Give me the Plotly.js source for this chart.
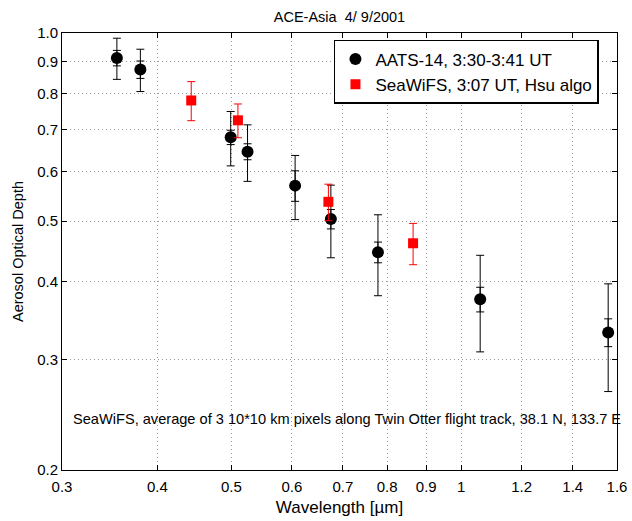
<!DOCTYPE html>
<html>
<head>
<meta charset="utf-8">
<script src="https://cdn.plot.ly/plotly-3.0.1.min.js"></script>
<style>
  html, body { margin: 0; padding: 0; background: #fff; }
  #chart { width: 632px; height: 521px; }
</style>
</head>
<body>
<div id="chart"></div>
<script>
// AATS-14 sunphotometer spectrum (wavelength in µm, AOD)
const aatsWavelength = [0.354, 0.380, 0.499, 0.525, 0.606, 0.675, 0.778, 1.059, 1.558];
const aatsAod        = [0.912, 0.874, 0.681, 0.646, 0.570, 0.504, 0.446, 0.375, 0.332];
const aatsErrTotal   = [0.069, 0.068, 0.068, 0.067, 0.067, 0.067, 0.066, 0.066, 0.065];
const aatsErrInner   = [0.026, 0.028, 0.018, 0.019, 0.032, 0.018, 0.017, 0.017, 0.017];

// SeaWiFS retrieval (Hsu algorithm)
const seawifsWavelength = [0.443, 0.510, 0.670, 0.865];
const seawifsAod        = [0.780, 0.725, 0.537, 0.461];
const seawifsErr        = [0.056, 0.045, 0.036, 0.035];

// Axis ticks
const xTickVals = [0.3, 0.4, 0.5, 0.6, 0.7, 0.8, 0.9, 1, 1.2, 1.4, 1.6];
const xTickText = ['0.3', '0.4', '0.5', '0.6', '0.7', '0.8', '0.9', '1', '1.2', '1.4', '1.6'];
const yTickVals = [0.2, 0.3, 0.4, 0.5, 0.6, 0.7, 0.8, 0.9, 1.0];
const yTickText = ['0.2', '0.3', '0.4', '0.5', '0.6', '0.7', '0.8', '0.9', '1.0'];

const FONT = 'Liberation Sans, Arial, Helvetica, sans-serif';

const traces = [
  {
    // AATS-14 total uncertainty and markers
    x: aatsWavelength, y: aatsAod,
    type: 'scatter', mode: 'markers',
    name: 'AATS-14, 3:30-3:41 UT',
    marker: { symbol: 'circle', size: 12, color: '#000' },
    error_y: { type: 'data', array: aatsErrTotal, visible: true,
               color: '#000', thickness: 1, width: 4 }
  },
  {
    // AATS-14 inner uncertainty
    x: aatsWavelength, y: aatsAod,
    type: 'scatter', mode: 'markers',
    showlegend: false,
    marker: { size: 1, color: 'rgba(0,0,0,0)' },
    error_y: { type: 'data', array: aatsErrInner, visible: true,
               color: '#000', thickness: 1, width: 4 }
  },
  {
    x: seawifsWavelength, y: seawifsAod,
    type: 'scatter', mode: 'markers',
    name: 'SeaWiFS, 3:07 UT, Hsu algo',
    marker: { symbol: 'square', size: 10, color: '#ff0000' },
    error_y: { type: 'data', array: seawifsErr, visible: true,
               color: '#ff0000', thickness: 1, width: 4 }
  }
];

const axisCommon = {
  type: 'log',
  showline: true, linecolor: '#000', linewidth: 1,
  mirror: 'ticks',
  ticks: 'inside', ticklen: 5, tickcolor: '#000', tickwidth: 1,
  showgrid: true, gridcolor: '#9a9a9a', griddash: '1px,3px', gridwidth: 1,
  zeroline: false,
  tickfont: { family: FONT, size: 15, color: '#000' }
};

const layout = {
  width: 632, height: 521,
  margin: { l: 62, r: 15, t: 33, b: 51 },
  paper_bgcolor: '#fff', plot_bgcolor: '#fff',
  font: { family: FONT, color: '#000' },
  title: {
    text: 'ACE-Asia\u00A0 4/\u00A09/2001',
    font: { family: FONT, size: 14.5, color: '#000' },
    x: 0.5, xref: 'paper', y: 1 - 17 / 521, yref: 'container', yanchor: 'middle'
  },
  xaxis: Object.assign({}, axisCommon, {
    range: [Math.log10(0.3), Math.log10(1.6)],
    tickvals: xTickVals, ticktext: xTickText,
    ticklabelstandoff: 3,
    title: { text: 'Wavelength [µm]', font: { family: FONT, size: 17, color: '#000' }, standoff: 7 }
  }),
  yaxis: Object.assign({}, axisCommon, {
    range: [Math.log10(0.2), Math.log10(1.0)],
    tickvals: yTickVals, ticktext: yTickText,
    title: { text: 'Aerosol Optical Depth', font: { family: FONT, size: 14.5, color: '#000' }, standoff: 10 }
  }),
  showlegend: true,
  legend: {
    x: 0.49, y: 0.984, xanchor: 'left', yanchor: 'top',
    bgcolor: '#fff', bordercolor: '#000', borderwidth: 1.5,
    font: { family: FONT, size: 17, color: '#000' },
    tracegroupgap: 0
  },
  annotations: [{
    text: 'SeaWiFS, average of 3 10*10 km pixels along Twin Otter flight track, 38.1 N, 133.7 E',
    xref: 'paper', yref: 'paper', x: 0.016, y: 0.117,
    xanchor: 'left', yanchor: 'middle', showarrow: false,
    font: { family: FONT, size: 14.6, color: '#000' }
  }]
};

Plotly.newPlot('chart', traces, layout, { staticPlot: true, displayModeBar: false });
</script>
</body>
</html>
